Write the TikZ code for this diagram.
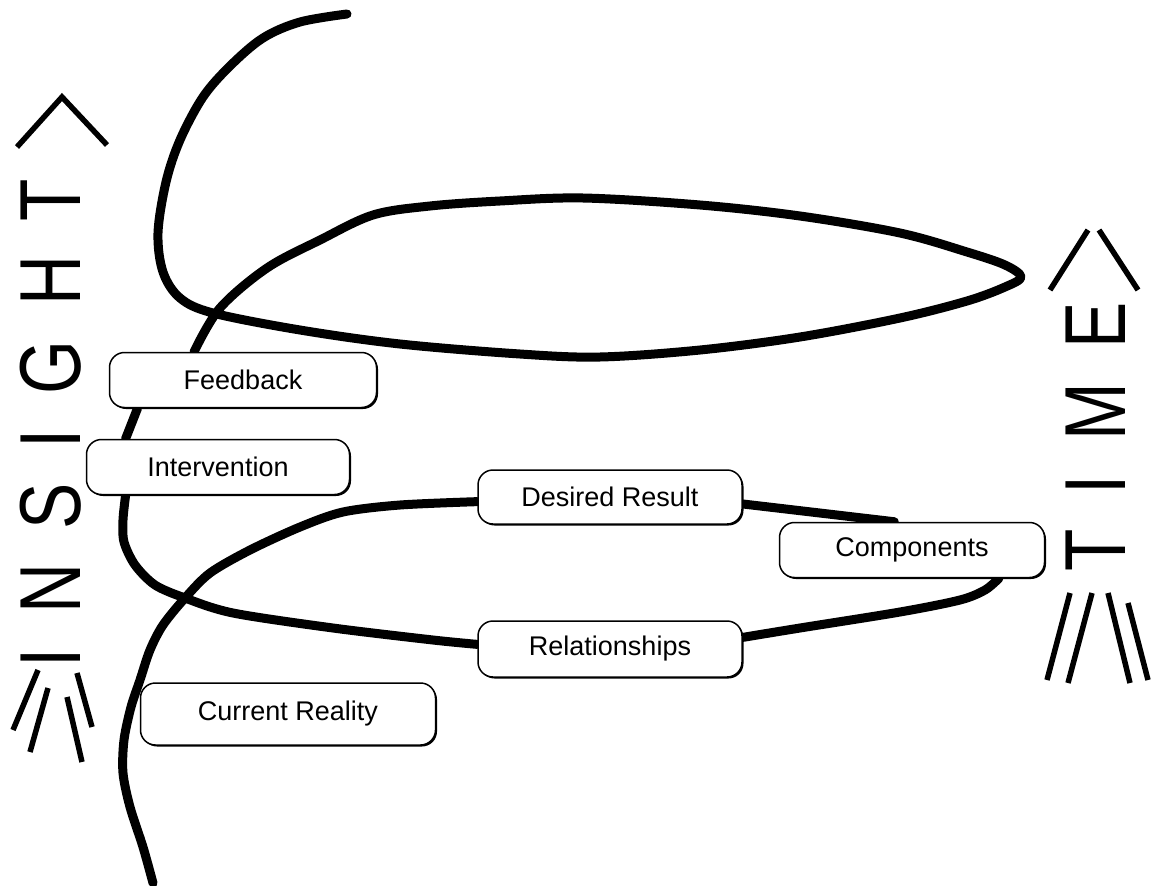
\documentclass[tikz,border=0pt]{standalone}
\usepackage{fontspec}
\setmainfont{Liberation Sans}
\newfontfamily\axisfont[LetterSpace=50]{Liberation Sans}
\usetikzlibrary{shadows,backgrounds}
\begin{document}
\begin{tikzpicture}[x=1pt,y=-1pt]
  \useasboundingbox (0,0) rectangle (1151,886);
  \tikzstyle{b}=[draw,line width=1.5pt,fill=white,rounded corners=15pt,inner sep=0pt,minimum height=55pt,font=\fontsize{27}{32}\selectfont,drop shadow={shadow xshift=1.5pt,shadow yshift=-1.5pt,opacity=1,fill=black}]
  \tikzstyle{c}=[line width=9pt,line cap=round,line join=round]
  \tikzstyle{a}=[line width=5.5pt]
  \tikzstyle{ax}=[rotate=90,anchor=west,inner sep=0pt,font=\axisfont\fontsize{86.6}{90}\selectfont]
  % boxes
  \node[b,minimum width=267pt](feedback)at(243,380){Feedback};
  \node[b,minimum width=263pt](intervention)at(218,467){Intervention};
  \node[b,minimum width=264pt,minimum height=54pt](desired)at(610,497){Desired Result};
  \node[b,minimum width=265pt](components)at(912,550){Components};
  \node[b,minimum width=264pt,minimum height=56pt](relations)at(610,649){Relationships};
  \node[b,minimum width=295pt,minimum height=62pt](current)at(288,714){Current Reality};
  \coordinate(head)at(347,14);
  \coordinate(tail)at(153,883);
  % the one long stroke, behind the boxes
  \begin{scope}[on background layer]
    \draw[c] plot[smooth,tension=0.55] coordinates{(head) (300,22) (263,38) (230,66) (203,97) (180,140) (166,182) (158,233) (163,272) (180,298) (213,313) (300,330) (400,344) (520,354) (600,357) (700,350) (800,337) (900,318) (967,301) (1005,287) (1021,277) (1005,265) (967,252) (900,233) (800,216) (700,205) (583,198) (500,201) (430,206) (373,215) (320,240) (267,268) (220,308) (feedback.150)};
    \draw[c] (feedback.195) -- (intervention.163);
    \draw[c] plot[smooth] coordinates{(intervention.197) (123,520) (124,542) (135,565) (155,585) (185,598) (233,613) (333,628) (433,640) (relations.178)};
    \draw[c] plot[smooth] coordinates{(relations.5) (800,628) (900,612) (960,600) (985,590) (components.-18)};
    \draw[c] (components.122) -- (desired.357);
    \draw[c] plot[smooth] coordinates{(desired.182) (400,505) (343,512) (300,527) (250,550) (210,573) (185,598) (163,625) (150,650) (140,680) (131,707) (124,740) (123,773) (130,807) (143,847) (tail)};
  \end{scope}
  % axis words
  \node[ax](insight)at(51,668){\scalebox{0.8}[1]{INSIGHT}};
  \node[ax](time)at(1096,572){\scalebox{0.8}[1]{TIME}};
  \draw[a] (17,147) -- (62,97) -- (107,145);
  \foreach\xa/\ya/\xb/\yb in{38/670/13/730,48/688/30/752,77/673/92/727,67/697/82/762}{\draw[a](\xa,\ya)--(\xb,\yb);}
  \draw[a] (1050,290) -- (1088,230);
  \draw[a] (1099,230) -- (1138,290);
  \foreach\xa/\ya/\xb/\yb in{1070/593/1047/680,1092/593/1068/683,1108/593/1130/683,1128/603/1148/680}{\draw[a](\xa,\ya)--(\xb,\yb);}
\end{tikzpicture}
\end{document}
